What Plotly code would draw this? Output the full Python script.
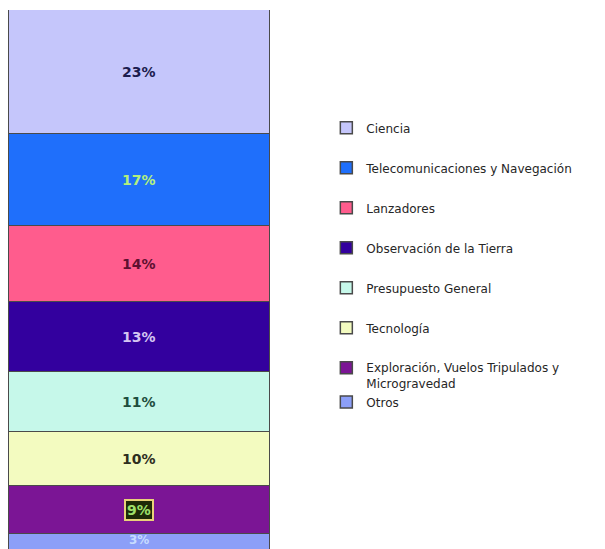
import plotly.graph_objects as go

# Budget share by programme (percent), listed bottom-up as they stack
categories = [
    "Otros",
    "Exploración, Vuelos Tripulados y<br>Microgravedad",
    "Tecnología",
    "Presupuesto General",
    "Observación de la Tierra",
    "Lanzadores",
    "Telecomunicaciones y Navegación",
    "Ciencia",
]
shares = [3, 9, 10, 11, 13, 14, 17, 23]
labels = ["3%", "9%", "10%", "11%", "13%", "14%", "17%", "23%"]

colors = ["#8c9ff8", "#7b1595", "#f3fbc0", "#c6f8ea", "#33009e", "#ff5c8d", "#1f6ffb", "#c5c6fb"]
label_colors = ["#c7dcff", "#9fe06a", "#2e2e1e", "#1e4e3e", "#d4c6f2", "#5e1030", "#b3f07e", "#1c1c4e"]
groups = ["g7", "g7", "g6", "g5", "g4", "g3", "g2", "g1"]
ranks = [8, 7, 6, 5, 4, 3, 2, 1]

FONT = "DejaVu Sans, Verdana, sans-serif"

fig = go.Figure()
for name, val, col, grp, rk in zip(categories, shares, colors, groups, ranks):
    fig.add_trace(go.Bar(
        x=["Presupuesto"], y=[val], name=name, legendgroup=grp, legendrank=rk,
        marker=dict(color=col, line=dict(color="#4a4a4a", width=1.5)),
        width=1,
    ))

# Percentage labels centred in each segment
bottom = 0
for i, (val, lab, lc) in enumerate(zip(shares, labels, label_colors)):
    mid = bottom + val / 2
    bottom += val
    boxed = i == 1
    fig.add_annotation(
        x=0, y=mid, xref="x", yref="y", text=f"<b>{lab}</b>", showarrow=False,
        font=dict(family=FONT, size=14 if i else 12, color=lc),
        yshift=3 if i == 0 else 0,
        bgcolor="#1e2a08" if boxed else None,
        bordercolor="#e8d27a" if boxed else None,
        borderwidth=2 if boxed else 0,
        borderpad=1,
    )

fig.update_layout(
    width=605, height=549,
    margin=dict(l=8, r=335, t=10, b=0),
    barmode="stack", bargap=0,
    paper_bgcolor="white", plot_bgcolor="white",
    xaxis=dict(visible=False, range=[-0.503, 0.5]),
    yaxis=dict(visible=False, range=[0.3, 100]),
    showlegend=True,
    legend=dict(
        x=1.215, xanchor="left", y=0.808, yanchor="top",
        traceorder="grouped", tracegroupgap=21,
        font=dict(family=FONT, size=12, color="#262626"),
        valign="top", itemclick=False, itemdoubleclick=False,
    ),
    font=dict(family=FONT),
)

fig.write_html("out.html")
